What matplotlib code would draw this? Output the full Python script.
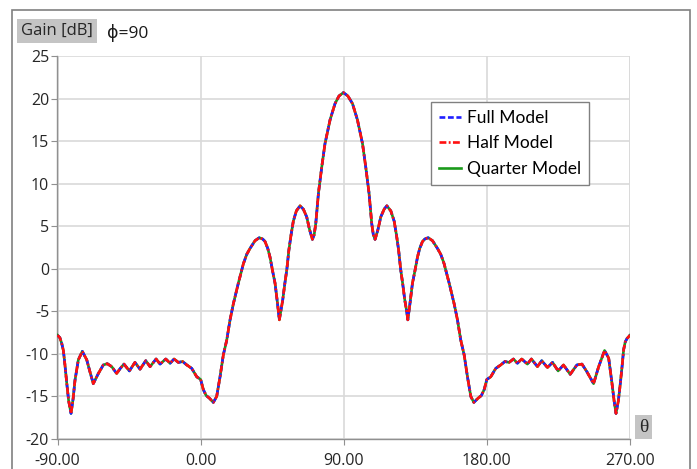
import matplotlib
matplotlib.use('Agg')
import matplotlib.pyplot as plt
from matplotlib.patches import Rectangle

plt.rcParams['font.family'] = ['Open Sans', 'DejaVu Sans']
plt.rcParams['axes.unicode_minus'] = False

# theta [deg] and gain [dB]
theta = [-90, -88.5, -87.3, -86.3, -85.2, -84.2, -83.0, -81.5, -80.2, -79.0,
         -76.9, -74.4, -71.6, -69.6, -67.5, -64.3, -61.2, -58.7, -55.9, -52.8,
         -50.5, -48.2, -44.8, -41.3, -38.1, -34.5, -31.8, -28.0, -25.5, -21.9,
         -19.2, -16.7, -14.0, -11.3, -8.7, -5.6, -2.4, 0.0, 1.7, 3.5,
         5.5, 8.0, 10.1, 12.2, 14.3, 16.4, 18.5, 20.6, 23.7, 26.9,
         29.0, 31.1, 34.2, 36.9, 39.0, 40.5, 42.2, 43.6, 45.3, 46.8,
         48.3, 49.5, 50.6, 51.6, 52.9, 54.2, 55.5, 56.8, 58.3, 60.2,
         62.5, 64.6, 66.7, 68.5, 70.3, 71.4, 72.4, 74.1, 76.2, 78.2,
         81.4, 84.5, 87.0, 89.8, 92.6, 95.5, 98.6, 101.8, 103.8, 105.9,
         107.6, 108.6, 109.7, 111.5, 113.3, 115.4, 117.1, 119.6, 121.7, 123.2,
         124.5, 125.8, 127.1, 128.4, 129.4, 130.3, 131.7, 133.2, 134.7, 136.4,
         137.8, 139.5, 141.0, 143.1, 145.8, 148.9, 151.0, 153.1, 156.3, 159.4,
         161.5, 163.6, 165.7, 167.8, 169.9, 171.8, 174.5, 176.5, 178.3, 180.0,
         182.4, 185.6, 188.7, 191.3, 194.0, 196.7, 199.2, 201.9, 205.5, 208.0,
         211.8, 214.5, 218.1, 221.3, 224.8, 228.2, 232.4, 236.6, 239.8, 242.9,
         247.1, 250.3, 254.0, 256.6, 258.7, 260.0, 261.2, 262.7, 263.9, 265.0,
         266.0, 267.0, 268.1, 270.0]
gain_full = [-7.8, -8.1, -8.8, -9.6, -11.5, -13.4, -15.5, -17.0, -15.3, -13.1,
             -10.7, -9.7, -10.7, -12.1, -13.5, -12.3, -11.3, -11.15, -11.5, -12.3,
             -11.7, -11.2, -12.0, -11.0, -11.8, -10.8, -11.5, -10.6, -11.2, -10.6,
             -11.1, -10.6, -11.0, -10.9, -11.3, -11.7, -12.7, -13.0, -14.2, -14.9,
             -15.2, -15.7, -15.0, -12.7, -10.1, -8.4, -6.0, -4.1, -1.7, 0.6,
             1.7, 2.4, 3.3, 3.65, 3.5, 3.2, 2.4, 1.4, -0.3, -1.7,
             -4.0, -6.0, -4.8, -3.7, -1.8, -0.1, 2.2, 3.9, 5.6, 6.8,
             7.4, 7.0, 6.1, 4.6, 3.45, 4.0, 5.3, 8.9, 12.0, 14.7,
             17.5, 19.4, 20.3, 20.7, 20.3, 19.4, 17.5, 14.7, 12.0, 8.9,
             5.3, 4.0, 3.45, 4.6, 6.1, 7.0, 7.4, 6.8, 5.6, 3.9,
             2.2, -0.1, -1.8, -3.7, -4.8, -6.0, -4.0, -1.7, -0.3, 1.4,
             2.4, 3.2, 3.5, 3.65, 3.3, 2.4, 1.7, 0.6, -1.7, -4.1,
             -6.0, -8.4, -10.1, -12.7, -15.0, -15.7, -15.2, -14.9, -14.2, -13.0,
             -12.7, -11.7, -11.3, -10.9, -11.0, -10.6, -11.1, -10.6, -11.2, -10.6,
             -11.5, -10.8, -11.6, -11.0, -12.0, -11.3, -12.4, -11.3, -11.2, -12.1,
             -13.5, -11.5, -9.6, -10.5, -13.5, -15.5, -17.0, -15.5, -13.5, -11.5,
             -9.5, -8.6, -8.2, -7.8]
# the three models coincide on this scale
gain_half = list(gain_full)
gain_quarter = list(gain_full)

x_ticks = [-90, 0, 90, 180, 270]
x_labels = ['-90.00', '0.00', '90.00', '180.00', '270.00']
y_ticks = [-20, -15, -10, -5, 0, 5, 10, 15, 20, 25]

fig = plt.figure(figsize=(6.97, 4.69), dpi=100)
ax = fig.add_axes([57.5 / 697, 1 - 439 / 469, (630 - 57.5) / 697, (439 - 56) / 469])

ax.plot(theta, gain_quarter, c='#1a9a1a', lw=1.9, ls='-', label='Quarter Model', zorder=3)
ax.plot(theta, gain_full, c='#2020ff', lw=1.9, ls=(0, (2.2, 1.0)), label='Full Model', zorder=4)
ax.plot(theta, gain_half, c='#ff1010', lw=1.9, ls=(0, (2.6, 0.9, 0.7, 0.9)), label='Half Model', zorder=5)

ax.set_xlim(-90, 270)
ax.set_ylim(-20, 25)
ax.set_xticks(x_ticks)
ax.set_xticklabels(x_labels)
ax.set_yticks(y_ticks)
ax.grid(True, color='#d9d9d9', lw=1.2)
ax.axvline(270, color='#d9d9d9', lw=1.2, zorder=1)
for s in ['top', 'right']:
    ax.spines[s].set_visible(False)
for s in ['left', 'bottom']:
    ax.spines[s].set_color('#909090')
    ax.spines[s].set_linewidth(1.0)
ax.tick_params(axis='both', colors='#909090', labelcolor='#262626', labelsize=11.5, length=4)
ax.tick_params(axis='y', pad=2)
ax.tick_params(axis='x', pad=6)

h, l = ax.get_legend_handles_labels()
order = [1, 2, 0]
leg = ax.legend([h[i] for i in order], [l[i] for i in order],
                loc='upper left', bbox_to_anchor=(431 / 697, 1 - 102 / 469),
                bbox_transform=fig.transFigure, fancybox=False, framealpha=1,
                edgecolor='#808080', borderaxespad=0, handlelength=1.3,
                handletextpad=0.35, borderpad=0.45, labelspacing=0.55,
                prop={'family': ['Lato', 'DejaVu Sans'], 'size': 12.5})
leg.get_frame().set_linewidth(1.0)

# outer frame
fig.patches.append(Rectangle((12 / 697, -0.05), (690 - 12) / 697, 1 - 10 / 469 + 0.05,
                             transform=fig.transFigure, fill=False,
                             edgecolor='#808080', lw=1.2))

fig.text(21 / 697, 1 - 31 / 469, 'Gain [dB]', fontsize=12, va='center', ha='left',
         color='#262626',
         bbox=dict(boxstyle='square,pad=0.25', fc='#c4c4c4', ec='none'))
fig.text(107 / 697, 1 - 33 / 469, 'ϕ=90', fontsize=12.5, va='center', ha='left',
         color='#1a1a1a')
fig.text(643.5 / 697, 1 - 427 / 469, 'θ', fontsize=14, va='center', ha='center',
         family=['Liberation Serif', 'DejaVu Serif'], color='#262626',
         bbox=dict(boxstyle='square,pad=0.2', fc='#c4c4c4', ec='none'))

plt.savefig('out.png', dpi=100)
